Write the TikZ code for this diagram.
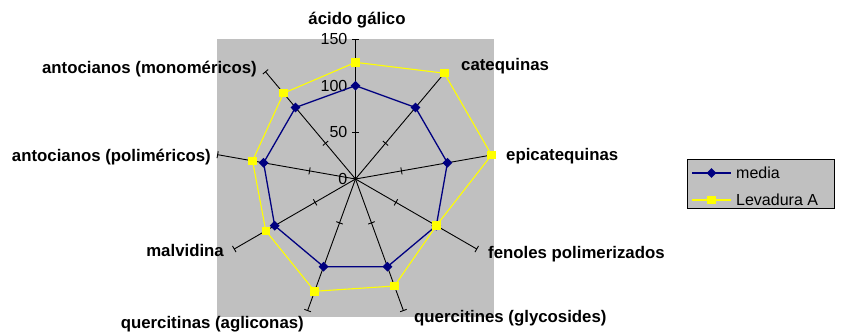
\documentclass[tikz,border=0pt]{standalone}
\usepackage{fontspec}
\setmainfont{Liberation Sans}
\usetikzlibrary{calc,positioning,shapes}
\definecolor{chartgray}{RGB}{192,192,192}
\definecolor{medianavy}{RGB}{0,0,128}
\definecolor{levyellow}{RGB}{255,255,0}
\tikzset{
axisline/.style={draw=black, line width=0.9pt},
catlabel/.style={font=\fontsize{16.8}{19}\selectfont\bfseries, inner sep=0pt},
valuelabel/.style={font=\fontsize{16}{19}\selectfont, inner sep=0pt, anchor=east},
legendtext/.style={font=\fontsize{16}{19}\selectfont, inner sep=0pt, anchor=west},
medialine/.style={draw=medianavy, line width=1.3pt},
levline/.style={draw=levyellow, line width=1.1pt},
mediamark/.style={diamond, fill=medianavy, inner sep=0pt, minimum size=10pt},
levmark/.style={rectangle, fill=levyellow, inner sep=0pt, minimum size=8.5pt},
}

\begin{document}
\begin{tikzpicture}[x=1pt,y=1pt]
            \useasboundingbox (0,0) rectangle (841,-333);
            \fill[chartgray] (217,-39) rectangle (494,-317);
            \coordinate (o) at (355.5,-179);
            % axes with ticks at 50, 100, 150
            \foreach \i in {1,...,9}{
                \pgfmathsetmacro\ang{130-40*\i}
                \coordinate (a\i) at ($(o)+(\ang:140)$);
                \draw[axisline] (o) -- (a\i);
                \foreach \v in {50,100,150}
                    \draw[axisline] ($(o)+(\ang:\v*0.9333)+(\ang+90:3.5)$) -- ($(o)+(\ang:\v*0.9333)+(\ang-90:3.5)$);
            }
            \foreach \v in {0,50,100,150}
                \node[valuelabel] (v\v) at ($(o)+(-8,\v*0.9333)$) {\v};

            \node[catlabel]              (c1) at (357,-20)  {ácido gálico};
            \node[catlabel, anchor=west] (c2) at (461,-66)  {catequinas};
            \node[catlabel, anchor=west] (c3) at (506,-156) {epicatequinas};
            \node[catlabel, anchor=west] (c4) at (488,-254) {fenoles polimerizados};
            \node[catlabel, anchor=west] (c5) at (414,-318) {quercitines (glycosides)};
            \node[catlabel, anchor=east] (c6) at (304,-324) {quercitinas (agliconas)};
            \node[catlabel, anchor=east] (c7) at (224,-250) {malvidina};
            \node[catlabel, anchor=east] (c8) at (211,-157) {antocianos (poliméricos)};
            \node[catlabel, anchor=east] (c9) at (257,-69)  {antocianos (monoméricos)};

            % media
            \foreach \r [count=\i] in {100,100,100,100,100,100,100,100,100}{
                \pgfmathsetmacro\ang{130-40*\i}
                \coordinate (m\i) at ($(o)+(\ang:\r*0.9333)$);
            }
            \draw[medialine] (m1) -- (m2) -- (m3) -- (m4) -- (m5) -- (m6) -- (m7) -- (m8) -- (m9) -- cycle;
            \foreach \i in {1,...,9}
                \node[mediamark] (mm\i) at (m\i) {};

            % Levadura A
            \foreach \r [count=\i] in {125,148,148,100,122,128,111,112,120}{
                \pgfmathsetmacro\ang{130-40*\i}
                \coordinate (l\i) at ($(o)+(\ang:\r*0.9333)$);
            }
            \draw[levline] (l1) -- (l2) -- (l3) -- (l4) -- (l5) -- (l6) -- (l7) -- (l8) -- (l9) -- cycle;
            \foreach \i in {1,...,9}
                \node[levmark] (lm\i) at (l\i) {};

            % legend
            \node[draw=black, line width=0.9pt, fill=chartgray, minimum width=147pt, minimum height=49pt, inner sep=0pt] (legend) at (760.5,-183.5) {};
            \coordinate (lg1a) at (692,-173);
            \coordinate (lg1b) at (731,-173);
            \coordinate (lg2a) at (692,-200);
            \coordinate (lg2b) at (731,-200);
            \draw[medialine] (lg1a) -- (lg1b);
            \node[mediamark] (lgm1) at ($(lg1a)!0.5!(lg1b)$) {};
            \node[legendtext] (lgt1) at (736,-173) {media};
            \draw[levline] (lg2a) -- (lg2b);
            \node[levmark] (lgm2) at ($(lg2a)!0.5!(lg2b)$) {};
            \node[legendtext] (lgt2) at (736,-200) {Levadura A};
\end{tikzpicture}
\end{document}
